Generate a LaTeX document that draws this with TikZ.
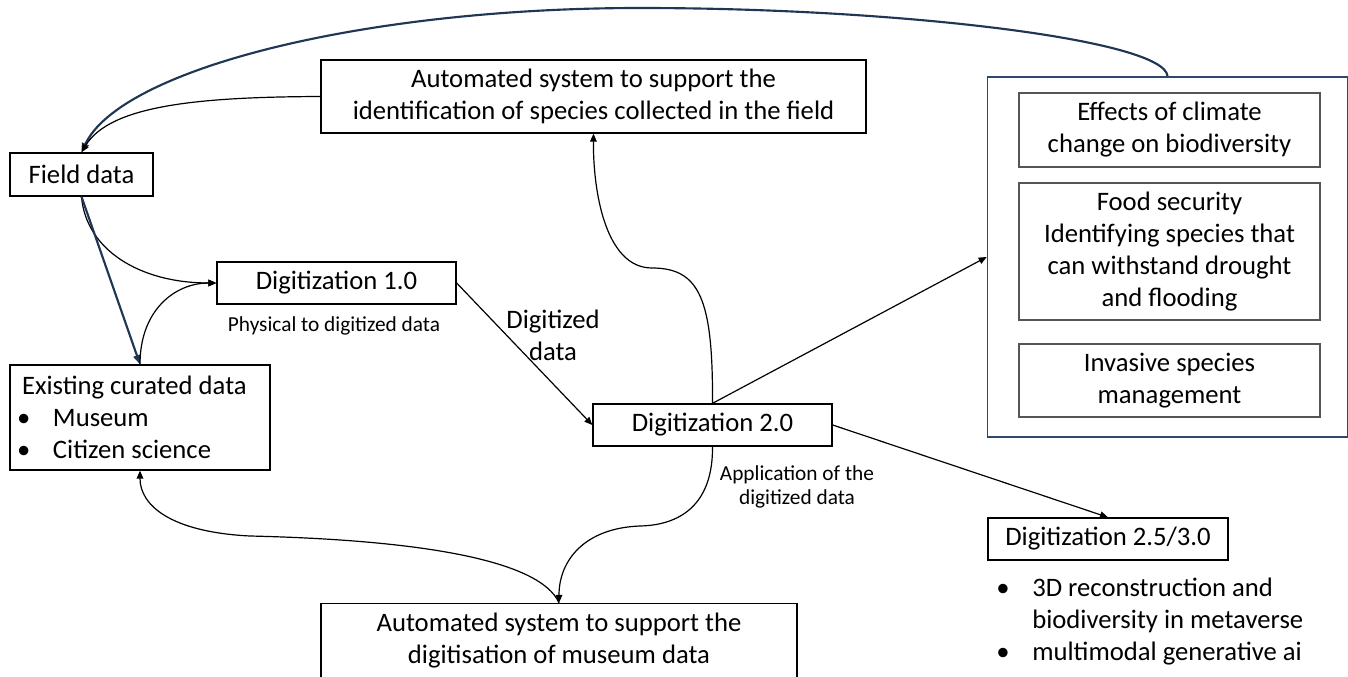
\documentclass[tikz,border=0pt]{standalone}
\usepackage{fontspec}
\setmainfont{Carlito}
\usetikzlibrary{arrows.meta}
\definecolor{navy}{HTML}{1F3654}
\definecolor{frame}{HTML}{2E4A6B}
\definecolor{inner}{HTML}{555555}
\newcommand{\mainsize}{\fontsize{20pt}{24pt}\selectfont}
\newcommand{\smallsize}{\fontsize{16pt}{17.5pt}\selectfont}
\newcommand{\bul}{\makebox[23.25pt][l]{\hspace*{-3.75pt}•}}
\begin{document}
\begin{tikzpicture}[x=0.75pt,y=-0.75pt,
  bx/.style 2 args={draw=black, line width=1pt, minimum width=#1*0.75pt,
    minimum height=#2*0.75pt, inner sep=0pt, align=center, font=\mainsize},
  ibx/.style 2 args={bx={#1}{#2}, draw=inner},
  lab/.style={inner sep=0pt, align=center, font=\mainsize},
  small/.style={inner sep=0pt, align=center, font=\smallsize},
  con/.style={line width=0.9pt, -{Triangle[length=6pt,width=5pt]}},
  ncon/.style={draw=navy, line width=1.6pt, -{Triangle[length=7pt,width=5.5pt]}}]
\useasboundingbox (0,0) rectangle (1348,677);

% boxes
\node[bx={143}{43}] (field) at (81.5,174.5) {Field data};
\node[bx={545}{73}] (auto1) at (593.5,96.5)
  {Automated system to support the\\identification of species collected in the field};
\node[bx={239}{42}] (dig1) at (336.5,283) {Digitization 1.0};
\node[bx={260}{105}, align=flush left, text width=236*0.75pt, inner xsep=12*0.75pt] (cur) at (140,417.5)
  {Existing curated data\\\bul Museum\\\bul Citizen science};
\node[bx={239}{42}] (dig2) at (712.5,425) {Digitization 2.0};
\node[bx={240}{42}] (dig25) at (1108,539) {Digitization 2.5/3.0};
\node[bx={476}{74}] (auto2) at (559,640.5)
  {Automated system to support the\\digitisation of museum data};

% group of applications
\node[draw=frame, line width=1.2pt, minimum width=360*0.75pt, minimum height=360*0.75pt, inner sep=0pt] (outer) at (1167.5,257) {};
\node[ibx={301}{74}] (clim) at (1169.5,130) {Effects of climate\\change on biodiversity};
\node[ibx={301}{137}] (food) at (1169.5,251.5) {Food security\\Identifying species that\\can withstand drought\\and flooding};
\node[ibx={301}{73}] (inv) at (1169.5,380.5) {Invasive species\\management};

% free labels
\node[small] (lphys) at (334,326) {Physical to digitized data};
\node[lab] (ldig) at (553,335) {Digitized\\data};
\node[small] (lapp) at (797,487) {Application of the\\digitized data};
\node[inner sep=0pt, align=left, font=\mainsize, anchor=west] (ai) at (1001,622)
  {\bul 3D reconstruction and\\\hspace*{23.25pt}biodiversity in metaverse\\\bul multimodal generative ai};

% connectors
\draw[ncon] (outer.north) .. controls (1165,40) and (900,8) .. (640,8)
  .. controls (360,8) and (120,70) .. (field.north);
\draw[con] (auto1.west) .. controls (200,97) and (110,105) .. (field.north);
\draw[con] (field.south) .. controls (86,250) and (140,283) .. (dig1.west);
\draw[ncon] (field.south) -- (cur.north);
\draw[con] (cur.north) .. controls (140,310) and (175,283) .. (dig1.west);
\draw[con] (dig1.east) -- (dig2.west);
\draw[con] (dig2.north) .. controls (713,300) and (700,268) .. (652,268)
  .. controls (605,268) and (593,190) .. (auto1.south);
\draw[con] (dig2.north) -- (outer.west);
\draw[con] (dig2.east) -- (dig25.north);
\draw[con] (dig2.south) .. controls (713,500) and (685,525) .. (640,526)
  .. controls (585,528) and (559,560) .. (auto2.north);
\draw[con] (auto2.north) .. controls (540,560) and (420,540) .. (250,536)
  .. controls (170,532) and (140,505) .. (cur.south);
\end{tikzpicture}
\end{document}
